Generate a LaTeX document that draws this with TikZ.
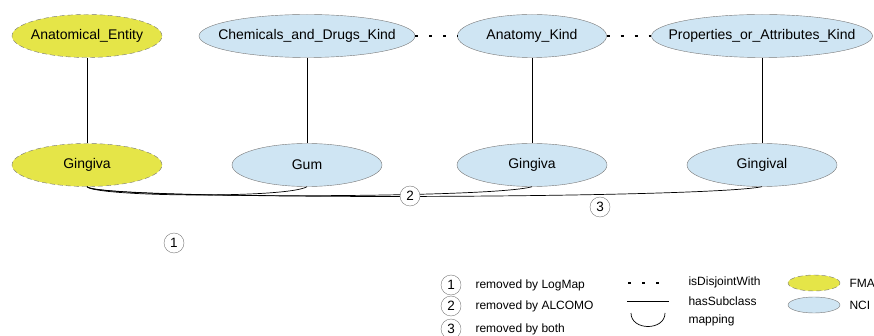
\documentclass[tikz,border=0pt]{standalone}
\usepackage{fontspec}
\setmainfont{Liberation Sans}
\usepackage{tikz}
\usetikzlibrary{shapes.geometric}

\definecolor{fmayellow}{RGB}{229,229,72}
\definecolor{nciblue}{RGB}{207,229,243}
\definecolor{rimgray}{RGB}{120,120,120}

\newcommand{\ctext}[1]{\hbox to 0pt{\hss #1\hss}}

\tikzset{
  onto/.style={ellipse, inner sep=0pt, minimum height=43pt, font=\fontsize{14}{16}\selectfont},
  fma/.style={onto, fill=fmayellow, draw=rimgray, dashed, dash pattern=on 5pt off 3pt},
  nci/.style={onto, fill=nciblue, draw=rimgray},
  numlbl/.style={circle, draw=rimgray, fill=white, inner sep=0pt, minimum size=20pt, font=\fontsize{13.5}{15}\selectfont},
  legtext/.style={anchor=west, font=\fontsize{12}{14}\selectfont},
  disjoint/.style={line width=2.8pt, dash pattern=on 2.8pt off 11.2pt},
  subclass/.style={line width=0.8pt},
  mapping/.style={line width=0.7pt}
}

\begin{document}
\begin{tikzpicture}[x=1pt, y=-1pt]
    \useasboundingbox (0,0) rectangle (874,336);

    % upper classes
    \node[fma, minimum width=150pt] (entity) at (87,36) {\ctext{Anatomical\_Entity}};
    \node[nci, minimum width=216pt] (chemkind) at (307,36) {\ctext{Chemicals\_and\_Drugs\_Kind}};
    \node[nci, minimum width=149pt] (anatkind) at (532,36) {\ctext{Anatomy\_Kind}};
    \node[nci, minimum width=221pt] (propkind) at (762,36) {\ctext{Properties\_or\_Attributes\_Kind}};

    % lower classes
    \node[fma, minimum width=150pt] (fmagingiva) at (87,165) {\ctext{Gingiva}};
    \node[nci, minimum width=150pt] (gum) at (307,165) {\ctext{Gum}};
    \node[nci, minimum width=150pt] (ncigingiva) at (532,165) {\ctext{Gingiva}};
    \node[nci, minimum width=150pt] (gingival) at (762,165) {\ctext{Gingival}};

    % hasSubclass
    \draw[subclass] (entity) -- (fmagingiva);
    \draw[subclass] (chemkind) -- (gum);
    \draw[subclass] (anatkind) -- (ncigingiva);
    \draw[subclass] (propkind) -- (gingival);

    % isDisjointWith
    \draw[disjoint] (chemkind.east) -- (anatkind.west);
    \draw[disjoint] (anatkind.east) -- (propkind.west);

    % mappings
    \draw[mapping] (fmagingiva.south) .. controls +(8,10) and +(-20,12) .. (gum.south);
    \draw[mapping] (fmagingiva.south) .. controls +(10,12) and +(-40,12) .. (ncigingiva.south);
    \draw[mapping] (fmagingiva.south) .. controls +(12,14) and +(-60,12) .. (gingival.south);

    \node[numlbl] (lblone) at (174,243) {1};
    \node[numlbl] (lbltwo) at (410,196) {2};
    \node[numlbl] (lblthree) at (600,207) {3};

    % legend
    \node[numlbl] (legone) at (451,285) {1};
    \node[numlbl] (legtwo) at (451,306) {2};
    \node[numlbl] (legthree) at (451,329) {3};
    \node[legtext] (txtone) at (472,285) {removed by LogMap};
    \node[legtext] (txttwo) at (472,306) {removed by ALCOMO};
    \node[legtext] (txtthree) at (472,329) {removed by both};

    \coordinate (disjA) at (628,283);
    \coordinate (disjB) at (669,283);
    \coordinate (subA) at (627,301);
    \coordinate (subB) at (669,301);
    \coordinate (mapA) at (631,313);
    \coordinate (mapB) at (665,313);
    \draw[disjoint] (disjA) -- (disjB);
    \draw[subclass] (subA) -- (subB);
    \draw[mapping] (mapA) .. controls +(0,18) and +(0,18) .. (mapB);
    \node[legtext] (txtdisj) at (685,282) {isDisjointWith};
    \node[legtext] (txtsub) at (685,301) {hasSubclass};
    \node[legtext] (txtmap) at (685,320) {mapping};

    \node[fma, minimum width=52pt, minimum height=16pt] (legfma) at (814,283) {};
    \node[nci, minimum width=52pt, minimum height=16pt] (legnci) at (814,305) {};
    \node[legtext] (txtfma) at (846,283) {FMA};
    \node[legtext] (txtnci) at (846,305) {NCI};
\end{tikzpicture}
\end{document}
